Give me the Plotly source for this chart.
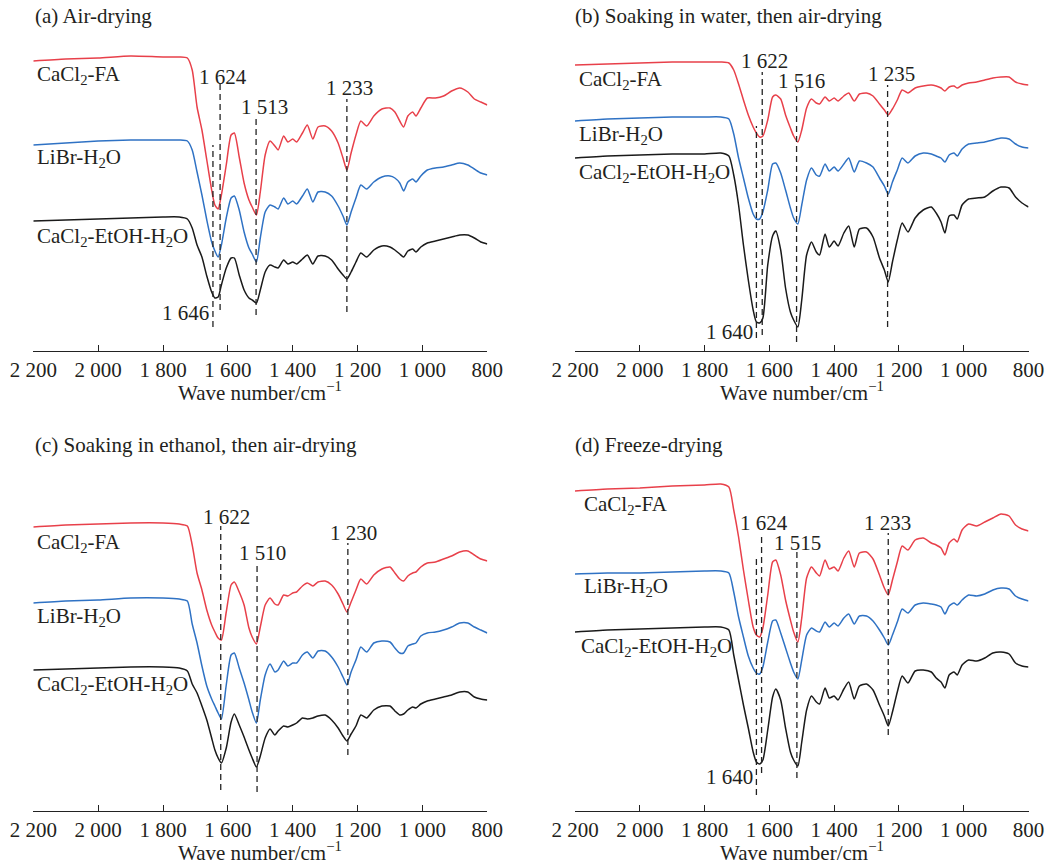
import plotly.graph_objects as go

# ---------------- data ----------------
wavenumber = [2200, 2100, 2000, 1900, 1800, 1750, 1725, 1710, 1695, 1680, 1665, 1650, 1640, 1630, 1620,
              1605, 1590, 1580, 1565, 1550, 1535, 1525, 1512, 1500, 1485, 1470, 1455, 1445, 1428, 1415,
              1400, 1388, 1370, 1355, 1338, 1322, 1300, 1280, 1260, 1245, 1233, 1220, 1205, 1190, 1172,
              1150, 1125, 1100, 1085, 1070, 1058, 1045, 1030, 1020, 1005, 985, 960, 935, 910, 885, 860,
              840, 820, 800]

series_names = ["CaCl<sub>2</sub>-FA", "LiBr-H<sub>2</sub>O", "CaCl<sub>2</sub>-EtOH-H<sub>2</sub>O"]

# (a) Air-drying  (transmittance, a.u., offset)
a_cacl2_fa = [289, 291, 292, 294, 293, 293, 292, 280, 243, 220, 190, 160, 145, 141, 155,
              185, 215, 217, 193, 167, 150, 143, 135, 158, 195, 209, 204, 200, 214, 208, 211,
              208, 217, 225, 211, 223, 224, 219, 207, 192, 180, 197, 215, 229, 224, 234, 241,
              242, 238, 229, 223, 234, 238, 234, 242, 252, 252, 254, 259, 262, 258, 251, 248, 245]
a_libr_h2o = [205, 207, 209, 210, 210, 210, 209, 200, 178, 155, 130, 108, 99, 93, 105,
              132, 152, 154, 140, 118, 102, 96, 88, 112, 138, 145, 143, 141, 152, 146, 149,
              146, 154, 161, 148, 158, 158, 154, 144, 134, 125, 138, 152, 165, 161, 168, 173,
              174, 172, 167, 159, 168, 171, 168, 174, 180, 182, 183, 185, 187, 185, 181, 177, 175]
a_cacl2_etoh = [129, 130, 131, 132, 133, 133, 131, 122, 105, 93, 74, 58, 52, 53, 65,
                82, 92, 92, 75, 60, 52, 50, 47, 60, 78, 85, 83, 82, 90, 86, 88,
                86, 91, 95, 86, 94, 94, 90, 81, 75, 71, 78, 88, 97, 93, 100, 104,
                103, 100, 96, 93, 99, 101, 98, 103, 107, 109, 111, 113, 115, 115, 112, 108, 106]

# (b) Soaking in water, then air-drying
b_cacl2_fa = [285, 286, 287, 288, 288, 288, 287, 280, 266, 250, 235, 223, 217, 213, 214,
              230, 253, 255, 251, 235, 222, 214, 208, 220, 242, 251, 247, 246, 253, 249, 252,
              249, 254, 257, 249, 256, 257, 254, 246, 240, 235, 241, 250, 260, 257, 262, 264,
              265, 264, 262, 259, 263, 264, 262, 265, 267, 268, 270, 272, 273, 273, 268, 266, 265]
b_libr_h2o = [229, 231, 232, 233, 233, 233, 231, 216, 192, 172, 152, 136, 131, 131, 138,
              160, 186, 187, 177, 160, 142, 132, 126, 145, 170, 182, 175, 174, 186, 179, 183,
              179, 186, 192, 178, 189, 187, 183, 172, 164, 156, 168, 180, 192, 187, 194, 197,
              196, 194, 192, 188, 195, 197, 194, 201, 206, 207, 208, 210, 212, 211, 206, 203, 202]
b_cacl2_etoh = [192, 194, 195, 196, 196, 197, 194, 175, 145, 105, 70, 40, 28, 27, 32,
                85, 114, 119, 100, 62, 38, 30, 23, 50, 95, 108, 98, 95, 116, 103, 109,
                104, 117, 124, 103, 121, 122, 113, 92, 80, 68, 88, 110, 127, 118, 132, 140,
                143, 137, 128, 117, 134, 135, 131, 145, 151, 152, 153, 159, 163, 162, 153, 147, 143]

# (c) Soaking in ethanol, then air-drying
c_cacl2_fa = [283, 285, 286, 287, 287, 286, 284, 265, 237, 220, 200, 185, 178, 172, 170,
              198, 225, 228, 218, 205, 182, 173, 166, 183, 205, 212, 206, 205, 215, 214, 217,
              218, 224, 227, 224, 228, 229, 225, 216, 206, 198, 208, 220, 231, 226, 235, 241,
              243, 237, 231, 229, 234, 237, 238, 243, 247, 248, 251, 254, 258, 259, 255, 251, 249]
c_libr_h2o = [207, 209, 210, 212, 212, 211, 209, 186, 167, 144, 124, 111, 104, 97, 91,
              125, 155, 157, 142, 127, 110, 98, 87, 110, 135, 146, 138, 140, 149, 144, 147,
              147, 155, 158, 152, 159, 159, 153, 143, 133, 125, 138, 150, 163, 158, 167, 169,
              168, 162, 157, 157, 164, 166, 167, 174, 177, 178, 180, 183, 187, 187, 183, 180, 177]
c_cacl2_etoh = [140, 141, 142, 143, 143, 142, 139, 126, 117, 104, 90, 72, 60, 52, 47,
                62, 88, 96, 85, 73, 60, 52, 43, 54, 72, 81, 75, 79, 84, 83, 85,
                87, 92, 91, 92, 94, 95, 90, 82, 74, 69, 76, 84, 95, 92, 100, 104,
                104, 99, 95, 96, 100, 103, 102, 106, 109, 111, 113, 115, 118, 118, 113, 111, 110]

# (d) Freeze-drying
d_cacl2_fa = [319, 321, 322, 324, 325, 326, 323, 300, 273, 240, 210, 183, 175, 173, 182,
              215, 248, 250, 235, 210, 190, 178, 168, 192, 232, 243, 237, 234, 250, 241, 243,
              239, 252, 259, 243, 257, 258, 251, 235, 222, 215, 230, 248, 264, 260, 270, 272,
              267, 265, 262, 255, 267, 271, 268, 280, 286, 284, 288, 292, 296, 294, 285, 281, 279]
d_libr_h2o = [236, 237, 237, 238, 239, 239, 237, 218, 193, 173, 154, 142, 137, 136, 143,
              168, 189, 190, 177, 162, 147, 138, 131, 150, 175, 182, 179, 178, 188, 183, 187,
              184, 192, 196, 186, 194, 194, 189, 180, 172, 165, 175, 188, 201, 197, 205, 207,
              206, 205, 203, 196, 204, 207, 205, 210, 215, 214, 216, 220, 222, 221, 214, 211, 209]
d_cacl2_etoh = [178, 180, 181, 182, 183, 183, 180, 155, 130, 105, 82, 58, 48, 46, 50,
                80, 113, 121, 110, 82, 58, 50, 44, 68, 100, 114, 108, 106, 122, 112, 114,
                110, 121, 128, 111, 124, 126, 120, 105, 94, 84, 98, 118, 134, 127, 139, 140,
                138, 132, 128, 122, 135, 138, 135, 145, 150, 149, 152, 157, 158, 156, 147, 144, 143]

panel_titles = ["(a) Air-drying", "(b) Soaking in water, then air-drying",
                "(c) Soaking in ethanol, then air-drying", "(d) Freeze-drying"]

# marked peaks (cm-1)
a_peaks = [1646, 1624, 1513, 1233]
b_peaks = [1640, 1622, 1516, 1235]
c_peaks = [1622, 1510, 1230]
d_peaks = [1640, 1624, 1515, 1233]

tick_values = [2200, 2000, 1800, 1600, 1400, 1200, 1000, 800]
tick_labels = ["2 200", "2 000", "1 800", "1 600", "1 400", "1 200", "1 000", "800"]

# ---------------- layout / styling ----------------
W, H = 1048, 861
FONT = "Liberation Serif, Times New Roman, serif"
FS = 21
TXT = "#231f20"
colors = ["#e8404a", "#2f72c4", "#1a1a1a"]
PLOT_H = 330  # pixel height of each panel's data area
Y_LO = -1     # value at the axis line

# per panel placement (pixels): left, right, axis-line y
placement = [
    dict(x0=33.3, x1=487.3, ybot=351, title_x=33, title_y=16),
    dict(x0=575.0, x1=1028.5, ybot=351, title_x=573, title_y=16),
    dict(x0=33.3, x1=487.3, ybot=811, title_x=33, title_y=445),
    dict(x0=575.0, x1=1028.5, ybot=811, title_x=573, title_y=445),
]

# dashed guide extents (T units) per peak
guide_spans = [
    [(23, 205), (40, 267), (35, 233), (38, 251)],
    [(12, 224), (15, 278), (8, 263), (23, 265)],
    [(20, 284), (18, 248), (55, 267)],
    [(15, 255), (37, 275), (32, 258), (75, 277)],
]
# peak-label anchor (wavenumber, T) per peak
peak_label_pos = [
    [(1730, 37), (1616, 273), (1488, 243), (1226, 262)],
    [(1724, 18), (1616, 289), (1500, 269), (1223, 276)],
    [(1605, 293), (1493, 257), (1214, 277)],
    [(1724, 33), (1616, 287), (1514, 267), (1234, 287)],
]
# sample-label anchor (left wavenumber, T) per series
name_label_pos = [
    [(2195, 275), (2195, 192), (2195, 113)],
    [(2194, 270), (2194, 215), (2194, 177)],
    [(2195, 267), (2195, 193), (2195, 125)],
    [(2178, 305), (2178, 223), (2188, 163)],
]

panel_series = [
    [a_cacl2_fa, a_libr_h2o, a_cacl2_etoh],
    [b_cacl2_fa, b_libr_h2o, b_cacl2_etoh],
    [c_cacl2_fa, c_libr_h2o, c_cacl2_etoh],
    [d_cacl2_fa, d_libr_h2o, d_cacl2_etoh],
]
panel_peaks = [a_peaks, b_peaks, c_peaks, d_peaks]


def fmt_peak(v):
    return f"{v // 1000} {v % 1000:03d}"


fig = go.Figure()
annotations = []
layout_axes = {}

for i in range(4):
    n = i + 1
    xa = "x" if n == 1 else f"x{n}"
    ya = "y" if n == 1 else f"y{n}"
    pl = placement[i]

    for k, ys in enumerate(panel_series[i]):
        fig.add_trace(go.Scatter(
            x=wavenumber, y=ys, mode="lines", xaxis=xa, yaxis=ya,
            line=dict(color=colors[k], width=1.5, shape="spline", smoothing=0.6),
            showlegend=False, hoverinfo="skip"))

    for p, (lo, hi) in zip(panel_peaks[i], guide_spans[i]):
        fig.add_trace(go.Scatter(
            x=[p, p], y=[lo, hi], mode="lines", xaxis=xa, yaxis=ya,
            line=dict(color="#222222", width=1.3, dash="6px,4px"),
            showlegend=False, hoverinfo="skip"))

    for p, (lx, ly) in zip(panel_peaks[i], peak_label_pos[i]):
        annotations.append(dict(x=lx, y=ly, xref=xa, yref=ya, text=fmt_peak(p),
                                showarrow=False, xanchor="center", yanchor="middle",
                                font=dict(family=FONT, size=FS, color=TXT)))

    for name, (lx, ly) in zip(series_names, name_label_pos[i]):
        annotations.append(dict(x=lx, y=ly, xref=xa, yref=ya, text=name,
                                showarrow=False, xanchor="left", yanchor="middle",
                                font=dict(family=FONT, size=FS, color=TXT)))

    annotations.append(dict(x=pl["title_x"] / W, y=1 - pl["title_y"] / H, xref="paper", yref="paper",
                            text=panel_titles[i], showarrow=False, xanchor="left", yanchor="middle",
                            font=dict(family=FONT, size=FS, color=TXT)))
    annotations.append(dict(x=(pl["x0"] + pl["x1"]) / 2 / W, y=1 - (pl["ybot"] + 40) / H,
                            xref="paper", yref="paper",
                            text="Wave number/cm<sup>−1</sup>", showarrow=False,
                            xanchor="center", yanchor="middle",
                            font=dict(family=FONT, size=FS, color=TXT)))

    xkey = "xaxis" if n == 1 else f"xaxis{n}"
    ykey = "yaxis" if n == 1 else f"yaxis{n}"
    layout_axes[xkey] = dict(
        domain=[pl["x0"] / W, pl["x1"] / W], anchor=ya, range=[2200, 800],
        tickvals=tick_values, ticktext=tick_labels, ticks="inside", ticklen=6, tickwidth=1.2,
        tickcolor="#222222", showline=True, linecolor="#222222", linewidth=1.2,
        showgrid=False, zeroline=False, ticklabelstandoff=0, automargin=False,
        tickfont=dict(family=FONT, size=FS, color=TXT))
    layout_axes[ykey] = dict(
        domain=[1 - pl["ybot"] / H, 1 - (pl["ybot"] - PLOT_H) / H], anchor=xa,
        range=[Y_LO, Y_LO + PLOT_H], visible=False, showgrid=False, zeroline=False,
        automargin=False)

fig.update_layout(
    width=W, height=H, margin=dict(l=0, r=0, t=0, b=0, pad=0, autoexpand=False),
    paper_bgcolor="white", plot_bgcolor="white",
    annotations=annotations, **layout_axes)

fig.write_html("out.html")
